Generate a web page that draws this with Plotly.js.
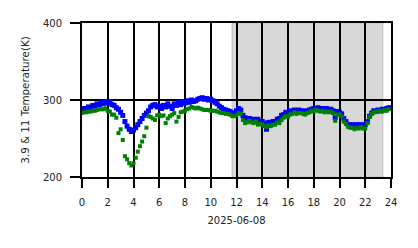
<!DOCTYPE html>
<html>
<head>
<meta charset="utf-8">
<script src="https://cdn.plot.ly/plotly-3.0.1.min.js"></script>
<style>html,body{margin:0;padding:0;background:#fff;}#chart{width:418px;height:248px;}</style>
</head>
<body>
<div id="chart"></div>
<script>
// 10-minute samples, hours 0..24 (one row per hour, 6 values each)
const stepMinutes = 10;
const blue39 = [
  287, 289, 288, 291, 290, 293,
  292, 295, 294, 297, 295, 298,
  296, 298, 294, 293, 290, 288,
  284, 280, 272, 266, 262, 259,
  261, 264, 268, 272, 276, 280,
  283, 286, 291, 293, 294, 291,
  292, 289, 293, 291, 295, 292,
  289, 295, 293, 297, 294, 298,
  296, 299, 297, 300, 298, 299,
  301, 302, 303, 301, 302, 300,
  301, 299, 297, 295, 292, 290,
  288, 287, 286, 285, 283, 283,
  286, 289, 287, 280, 277, 276,
  276, 274, 275, 273, 275, 272,
  272, 270, 262, 271, 270, 272,
  272, 275, 276, 280, 281, 284,
  283, 286, 285, 287, 286, 287,
  286, 285, 286, 285, 287, 288,
  289, 288, 290, 288, 289, 287,
  289, 287, 288, 286, 277, 285,
  284, 282, 276, 272, 268, 267,
  268, 266, 268, 267, 268, 266,
  268, 272, 279, 283, 286, 285,
  287, 286, 288, 287, 289, 290
];
const green11 = [
  283, 284, 284, 285, 285, 286,
  286, 287, 288, 288, 288, 289,
  286, 285, 281, 281, 277, 257,
  262, 248, 227, 223, 218, 215,
  218, 225, 233, 240, 246, 253,
  264, 279, 278, 276, 274, 280,
  281, 279, 280, 270, 276, 279,
  281, 283, 272, 278, 284, 285,
  286, 288, 289, 291, 290, 289,
  290, 289, 288, 287, 287, 287,
  286, 286, 286, 285, 284, 283,
  283, 282, 282, 281, 279, 279,
  280, 283, 282, 274, 270, 271,
  273, 271, 270, 272, 268, 269,
  268, 266, 265, 267, 266, 268,
  268, 271, 270, 274, 277, 279,
  278, 281, 282, 284, 282, 283,
  283, 282, 281, 283, 284, 286,
  285, 287, 286, 285, 286, 284,
  285, 284, 285, 283, 273, 281,
  281, 279, 272, 269, 265, 264,
  264, 262, 264, 263, 265, 263,
  263, 270, 278, 282, 284, 285,
  285, 286, 285, 287, 286, 288
];
const nightStart = 11.67;
const nightEnd = 23.35;
const xTicks = [0, 2, 4, 6, 8, 10, 12, 14, 16, 18, 20, 22, 24];
const yTicks = [200, 300, 400];
const xTitle = '2025-06-08';
const yTitle = '3.9 & 11 Temperature(K)';

const hours = blue39.map((_, i) => i * stepMinutes / 60);

const font = {family: 'DejaVu Sans, sans-serif', size: 10, color: '#222'};
const titleFont = {family: 'DejaVu Sans, sans-serif', size: 10.3, color: '#222'};

const traces = [
  {x: hours, y: blue39, type: 'scatter', mode: 'markers', name: '3.9',
   marker: {symbol: 'square', size: 5, color: '#0000ff', line: {width: 0}}},
  {x: hours, y: green11, type: 'scatter', mode: 'markers', name: '11',
   marker: {symbol: 'square', size: 4, color: '#008000', line: {width: 0}}}
];

const layout = {
  width: 418, height: 248,
  margin: {l: 82, r: 27, t: 23, b: 71, pad: 0},
  paper_bgcolor: '#fff', plot_bgcolor: '#fff',
  showlegend: false,
  font: font,
  xaxis: {
    range: [0, 24], tickmode: 'array', tickvals: xTicks, ticktext: xTicks.map(String),
    showgrid: true, gridcolor: '#000', gridwidth: 2,
    showline: true, mirror: true, linecolor: '#000', linewidth: 2,
    ticks: 'outside', ticklen: 9, tickwidth: 2, tickcolor: '#000',
    zeroline: false, tickfont: font, ticklabelstandoff: 6,
    title: {text: xTitle, font: font, standoff: 10}
  },
  yaxis: {
    range: [200, 400], tickmode: 'array', tickvals: yTicks, ticktext: yTicks.map(String),
    showgrid: true, gridcolor: '#000', gridwidth: 2,
    showline: true, mirror: true, linecolor: '#000', linewidth: 2,
    ticks: 'outside', ticklen: 10, tickwidth: 2, tickcolor: '#000',
    zeroline: false, tickfont: font, ticklabelstandoff: 6,
    title: {text: yTitle, font: titleFont, standoff: 11}
  },
  shapes: [{
    type: 'rect', xref: 'x', yref: 'paper', x0: nightStart, x1: nightEnd, y0: 0, y1: 1,
    fillcolor: '#d8d8d8', line: {color: '#cbcbcb', width: 1.5}, layer: 'below'
  }]
};

Plotly.newPlot('chart', traces, layout, {staticPlot: true, displayModeBar: false});
</script>
</body>
</html>
